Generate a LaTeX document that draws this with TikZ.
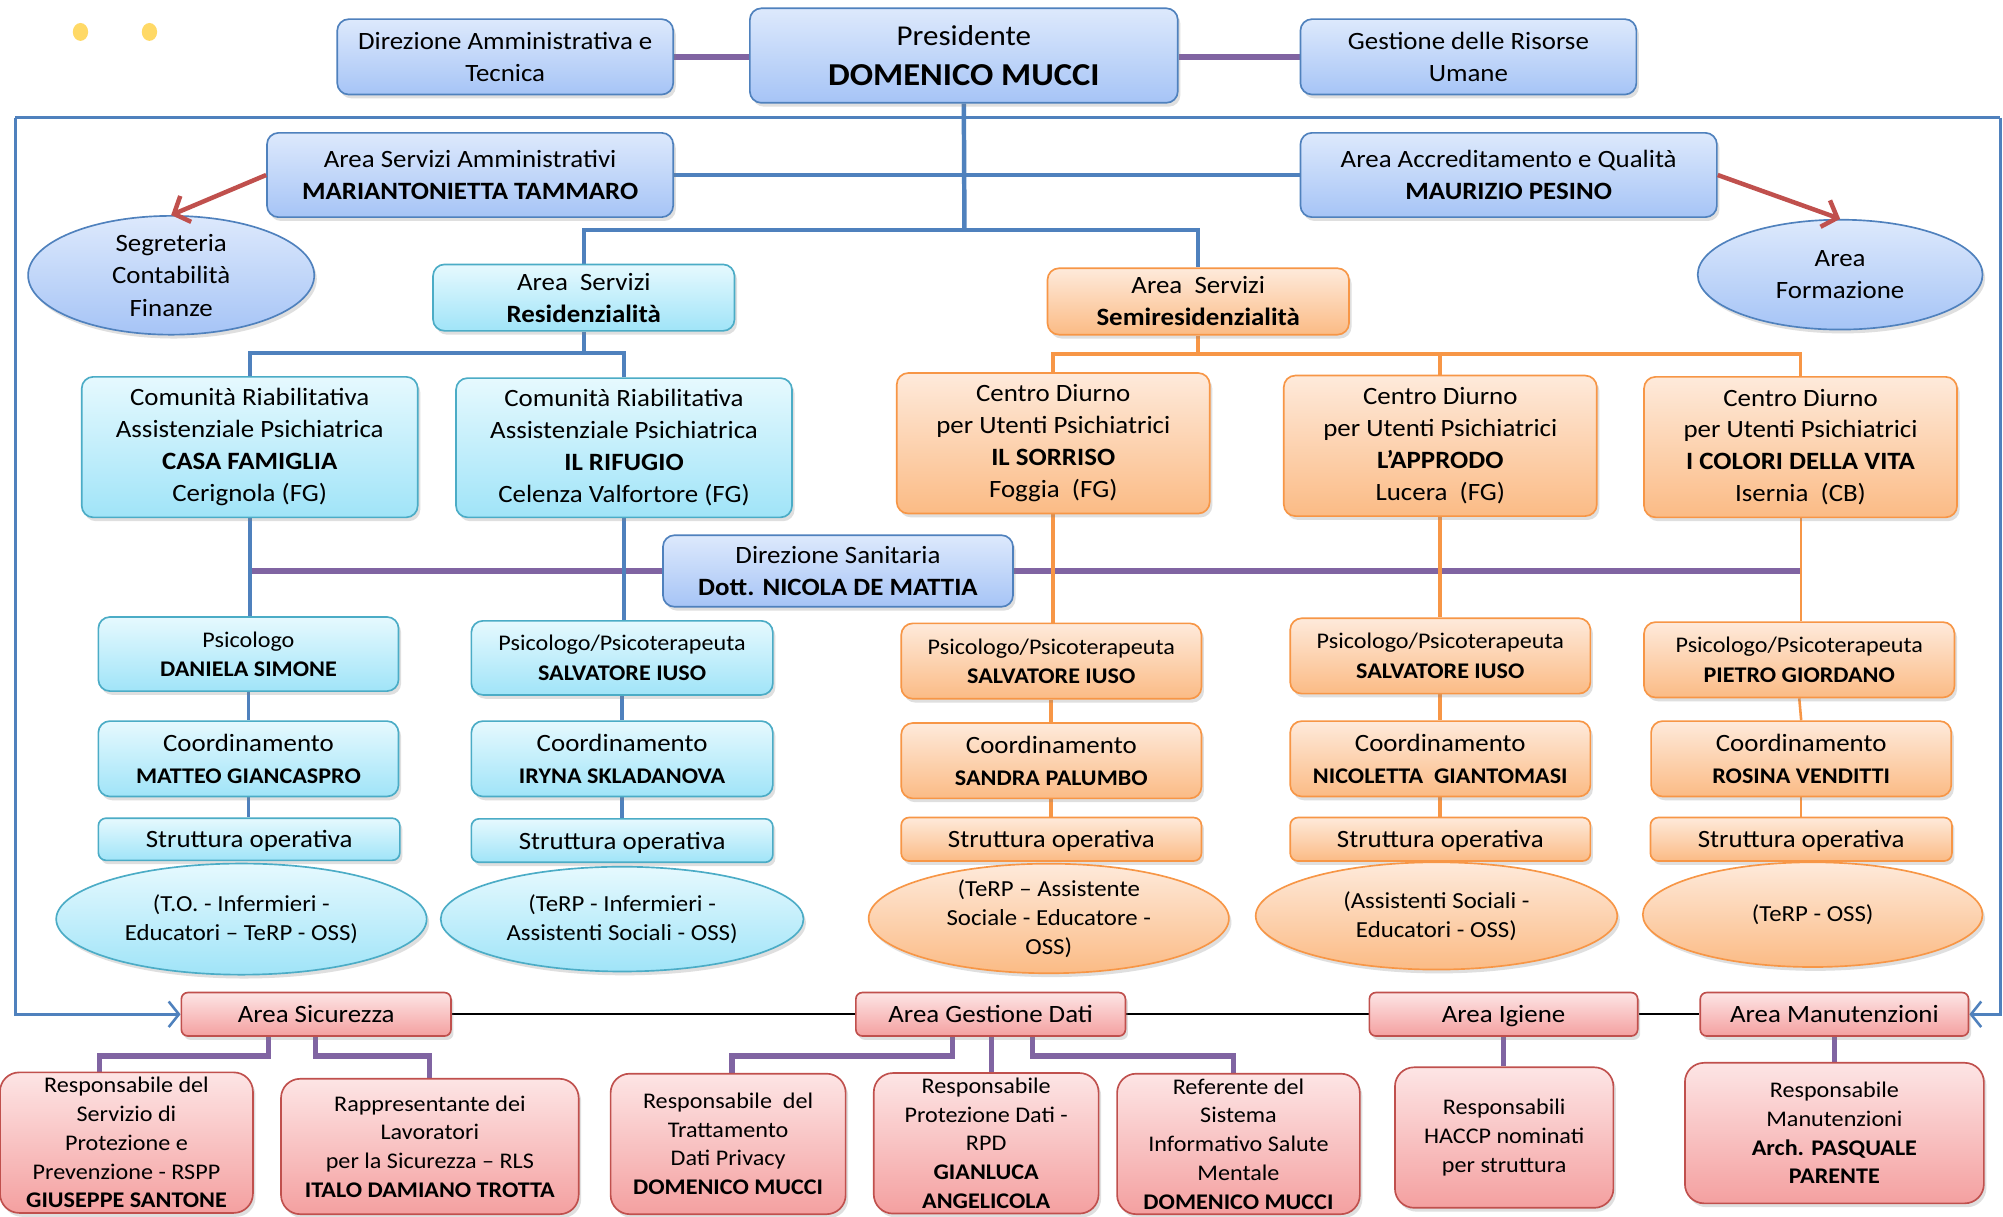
\documentclass[tikz,border=0pt]{standalone}
\usepackage{fontspec}
\setmainfont{Carlito}[FakeStretch=1.08]
\usetikzlibrary{shapes.geometric,shadows,arrows.meta}
\definecolor{bTop}{HTML}{DDE9FC}
\definecolor{bBot}{HTML}{A6C4F6}
\definecolor{bordB}{HTML}{4F81BD}
\definecolor{cTop}{HTML}{E6F9FE}
\definecolor{cBot}{HTML}{A0E4F8}
\definecolor{bordC}{HTML}{4BACC6}
\definecolor{oTop}{HTML}{FEEADB}
\definecolor{oBot}{HTML}{FBBB85}
\definecolor{bordO}{HTML}{F79646}
\definecolor{pTop}{HTML}{FDE5E5}
\definecolor{pBot}{HTML}{F4A0A0}
\definecolor{bordP}{HTML}{C0504D}
\definecolor{purp}{HTML}{8064A2}
\definecolor{dotY}{HTML}{FFD966}
\newcommand\ftA{\fontsize{19.5}{25}\selectfont}
\newcommand\ftD{\fontsize{17.5}{22.5}\selectfont}
\newcommand\ftP{\fontsize{17.5}{23}\selectfont}
\newcommand\ftE{\fontsize{18}{23}\selectfont}
\pgfdeclarelayer{bg}
\pgfsetlayers{bg,main}
\tikzset{
  sz/.style 2 args={minimum width=#1pt, minimum height=#2pt},
  oneline/.style={text height=15pt, text depth=1.5pt},
  bx/.style={draw, rounded corners=9pt, line width=1.3pt, align=center, inner sep=0pt,
    drop shadow={opacity=0.25, shadow xshift=2pt, shadow yshift=-3pt}},
  bluebox/.style={bx, draw=bordB, top color=bTop, bottom color=bBot},
  cyanbox/.style={bx, draw=bordC, top color=cTop, bottom color=cBot},
  orbox/.style={bx, draw=bordO, top color=oTop, bottom color=oBot},
  pinkbox/.style={bx, draw=bordP, top color=pTop, bottom color=pBot},
  el/.style={ellipse, draw, line width=1.3pt, align=center, inner sep=0pt,
    drop shadow={opacity=0.25, shadow xshift=2pt, shadow yshift=-3pt}},
  blueell/.style={el, draw=bordB, top color=bTop, bottom color=bBot},
  cyanell/.style={el, draw=bordC, top color=cTop, bottom color=cBot},
  orell/.style={el, draw=bordO, top color=oTop, bottom color=oBot},
  bline/.style={draw=bordB, line width=3.5pt},
  bthin/.style={draw=bordB, line width=3pt},
  oline/.style={draw=bordO, line width=3pt},
  pline/.style={draw=purp, line width=4.5pt},
  pthin/.style={draw=purp, line width=4pt},
  frameline/.style={draw=bordB, line width=2pt},
  redarr/.style={draw=bordP, line width=3.5pt, -{Straight Barb[length=10pt,width=22pt]}},
  framearr/.style={frameline, -{Straight Barb[length=8pt,width=20pt]}},
  blk/.style={draw=black, line width=1.5pt},
  ydot/.style={ellipse, fill=dotY, minimum width=12pt, minimum height=14pt, inner sep=0pt}
}
\begin{document}
\begin{tikzpicture}[x=1pt,y=-1pt]
\useasboundingbox (0,0) rectangle (1568,952);

\node[ydot] (d1) at (63,25) {};
\node[ydot] (d2) at (117,25) {};

% top row
\node[bluebox, sz={263}{59}, font=\ftA] (dir) at (395.5,44.5) {Direzione Amministrativa e\\Tecnica};
\node[bluebox, sz={335}{74}, font=\fontsize{22.5}{31}\selectfont] (pres) at (754.5,43.5) {Presidente\\{\fontsize{25}{31}\selectfont\bfseries DOMENICO MUCCI}};
\node[bluebox, sz={263}{59}, font=\ftA] (ges) at (1149.5,44.5) {Gestione delle Risorse\\Umane};

\node[bluebox, sz={318}{66}, font=\ftA] (amm) at (368,137) {Area Servizi Amministrativi\\\textbf{MARIANTONIETTA TAMMARO}};
\node[bluebox, sz={326}{66}, font=\ftA] (accr) at (1181,137) {Area Accreditamento e Qualità\\\textbf{MAURIZIO PESINO}};
\node[blueell, sz={224}{93}, font=\fontsize{19.5}{25.5}\selectfont] (seg) at (134,215.5) {Segreteria\\Contabilità\\Finanze};
\node[blueell, sz={223}{86}, font=\fontsize{19.5}{25.5}\selectfont] (form) at (1440.5,215) {Area\\Formazione};

\node[cyanbox, sz={236}{52}, font=\ftA] (res) at (457,233) {Area~\ Servizi\\\textbf{Residenzialità}};
\node[orbox, sz={236}{52}, font=\ftA] (semi) at (938,236) {Area~\ Servizi\\\textbf{Semiresidenzialità}};

% structures
\node[cyanbox, sz={263}{110}, font=\ftA] (cr1) at (195.5,350) {Comunità Riabilitativa\\Assistenziale Psichiatrica\\\textbf{CASA FAMIGLIA}\\Cerignola (FG)};
\node[cyanbox, sz={263}{109}, font=\ftA] (cr2) at (488.5,350.5) {Comunità Riabilitativa\\Assistenziale Psichiatrica\\\textbf{IL RIFUGIO}\\Celenza Valfortore (FG)};
\node[orbox, sz={245}{110}, font=\ftA] (cd1) at (824.5,347) {Centro Diurno\\per Utenti Psichiatrici\\\textbf{IL SORRISO}\\Foggia~ (FG)};
\node[orbox, sz={245}{110}, font=\ftA] (cd2) at (1127.5,349) {Centro Diurno\\per Utenti Psichiatrici\\\textbf{L’APPRODO}\\Lucera~ (FG)};
\node[orbox, sz={245}{110}, font=\ftA] (cd3) at (1409.5,350) {Centro Diurno\\per Utenti Psichiatrici\\\textbf{I COLORI DELLA VITA}\\Isernia~ (CB)};

\node[bluebox, sz={274}{56}, font=\ftA] (dsan) at (656,447) {Direzione Sanitaria\\\textbf{Dott. NICOLA DE MATTIA}};

% psicologi
\node[cyanbox, sz={235}{58}, font=\ftP] (p1) at (194.5,512) {Psicologo\\\textbf{DANIELA SIMONE}};
\node[cyanbox, sz={236}{58}, font=\ftP] (p2) at (487,515) {Psicologo/Psicoterapeuta\\\textbf{SALVATORE IUSO}};
\node[orbox, sz={235}{59}, font=\ftP] (p3) at (823,517.5) {Psicologo/Psicoterapeuta\\\textbf{SALVATORE IUSO}};
\node[orbox, sz={235}{59}, font=\ftP] (p4) at (1127.5,513.5) {Psicologo/Psicoterapeuta\\\textbf{SALVATORE IUSO}};
\node[orbox, sz={243}{59}, font=\ftP] (p5) at (1408.5,516.5) {Psicologo/Psicoterapeuta\\\textbf{PIETRO GIORDANO}};

% coordinamento
\node[cyanbox, sz={235}{59}, font=\ftA] (c1) at (194.5,594) {Coordinamento\\{\ftP\bfseries MATTEO GIANCASPRO}};
\node[cyanbox, sz={236}{59}, font=\ftA] (c2) at (487,594) {Coordinamento\\{\ftP\bfseries IRYNA SKLADANOVA}};
\node[orbox, sz={235}{59}, font=\ftA] (c3) at (823,595.5) {Coordinamento\\{\ftP\bfseries SANDRA PALUMBO}};
\node[orbox, sz={235}{59}, font=\ftA] (c4) at (1127.5,594) {Coordinamento\\{\ftP\bfseries NICOLETTA~ GIANTOMASI}};
\node[orbox, sz={235}{59}, font=\ftA] (c5) at (1410,594) {Coordinamento\\{\ftP\bfseries ROSINA VENDITTI}};

% struttura operativa
\node[cyanbox, oneline, sz={236}{33}, rounded corners=6pt, font=\ftA] (s1) at (195,657) {Struttura operativa};
\node[cyanbox, oneline, sz={236}{34}, rounded corners=6pt, font=\ftA] (s2) at (487,658) {Struttura operativa};
\node[orbox, oneline, sz={235}{34}, rounded corners=6pt, font=\ftA] (s3) at (823,657) {Struttura operativa};
\node[orbox, oneline, sz={235}{34}, rounded corners=6pt, font=\ftA] (s4) at (1127.5,657) {Struttura operativa};
\node[orbox, oneline, sz={236}{34}, rounded corners=6pt, font=\ftA] (s5) at (1410,657) {Struttura operativa};

% ellipses
\node[cyanell, sz={290}{87}, font=\ftE] (e1) at (189,719.5) {(T.O. - Infermieri -\\Educatori – TeRP - OSS)};
\node[cyanell, sz={284}{82}, font=\ftE] (e2) at (487,719.5) {(TeRP - Infermieri -\\Assistenti Sociali - OSS)};
\node[orell, sz={282}{82}, font=\fontsize{18}{22.5}\selectfont] (e3) at (821,719) {(TeRP – Assistente\\Sociale - Educatore -\\OSS)};
\node[orell, sz={283}{84}, font=\ftE] (e4) at (1124.5,717) {(Assistenti Sociali -\\Educatori - OSS)};
\node[orell, sz={266}{82}, font=\ftE] (e5) at (1419,716) {(TeRP - OSS)};

% bottom areas
\node[pinkbox, oneline, sz={211}{34}, rounded corners=5pt, font=\ftA] (sic) at (247.5,794) {Area Sicurezza};
\node[pinkbox, oneline, sz={211}{34}, rounded corners=5pt, font=\ftA] (gd) at (775.5,794) {Area Gestione Dati};
\node[pinkbox, oneline, sz={210}{34}, rounded corners=5pt, font=\ftA] (ig) at (1177,794) {Area Igiene};
\node[pinkbox, oneline, sz={210}{34}, rounded corners=5pt, font=\ftA] (man) at (1436,794) {Area Manutenzioni};

\node[pinkbox, sz={198}{110}, rounded corners=15pt, font=\ftD] (b1) at (99,894.5) {Responsabile del\\Servizio di\\Protezione e\\Prevenzione - RSPP\\\textbf{GIUSEPPE SANTONE}};
\node[pinkbox, sz={233}{106}, rounded corners=15pt, font=\ftD] (b2) at (336.5,897.5) {Rappresentante dei\\Lavoratori\\per la Sicurezza – RLS\\\textbf{ITALO DAMIANO TROTTA}};
\node[pinkbox, sz={184}{110}, rounded corners=15pt, font=\ftD] (b3) at (570,895.5) {Responsabile~ del\\Trattamento\\Dati Privacy\\\textbf{DOMENICO MUCCI}};
\node[pinkbox, sz={176}{110}, rounded corners=15pt, font=\ftD] (b4) at (772,895) {Responsabile\\Protezione Dati -\\RPD\\\textbf{GIANLUCA}\\\textbf{ANGELICOLA}};
\node[pinkbox, sz={190}{110}, rounded corners=15pt, font=\ftD] (b5) at (969.5,895.5) {Referente del\\Sistema\\Informativo Salute\\Mentale\\\textbf{DOMENICO MUCCI}};
\node[pinkbox, sz={171}{110}, rounded corners=15pt, font=\ftD] (b6) at (1177.5,890.5) {Responsabili\\HACCP nominati\\per struttura};
\node[pinkbox, sz={234}{110}, rounded corners=15pt, font=\ftD] (b7) at (1436,887) {Responsabile\\Manutenzioni\\\textbf{Arch. PASQUALE}\\\textbf{PARENTE}};

% connectors
\coordinate (j0) at (755,180);
\coordinate (j1) at (457,276.5);
\coordinate (j2) at (938,277);
\coordinate (fTL) at (12,92);
\coordinate (fTR) at (1566,92);

\begin{pgfonlayer}{bg}
\fill[white] (0,0) rectangle (1568,952);
\draw[pline] (dir.east) -- (dir.east -| pres.west);
\draw[pline] (ges.west) -- (ges.west -| pres.east);

\draw[frameline] (fTL) -- (fTR);
\draw[framearr] (fTL) |- (sic.west);
\draw[framearr] (fTR) |- (man.east);

\draw[bline] (pres.south) -- (j0);
\draw[bline] (amm.east) -- (accr.west);
\draw[bline] (res.north) |- (j0);
\draw[bline] (semi.north) |- (j0);

\draw[bline] (res.south) -- (j1);
\draw[bline] (cr1.north) |- (j1);
\draw[bline] (cr2.north) |- (j1);

\draw[oline] (semi.south) -- (j2);
\draw[oline] (cd1.north) |- (j2);
\draw[oline] (cd2.north) |- (j2);
\draw[oline] (cd3.north) |- (j2);

\draw[pline] (dsan.west) -- (dsan.west -| cr1.south);
\draw[pline] (dsan.east) -- (dsan.east -| cd3.south);

\draw[bline] (cr1.south) -- (cr1.south |- p1.north);
\draw[bline] (cr2.south) -- (cr2.south |- p2.north);
\draw[oline] (cd1.south) -- (cd1.south |- p3.north);
\draw[oline] (cd2.south) -- (cd2.south |- p4.north);
\draw[draw=bordO, line width=1.5pt] (cd3.south) -- (cd3.south |- p5.north);

\draw[bthin] (p1.south) -- (c1.north);
\draw[bthin] (p2.south) -- (c2.north);
\draw[oline] (p3.south) -- (c3.north);
\draw[oline] (p4.south) -- (c4.north);
\draw[draw=bordO, line width=2pt] (p5.south) -- (c5.north);

\draw[bthin] (c1.south) -- (s1.north -| c1.south);
\draw[bthin] (c2.south) -- (s2.north -| c2.south);
\draw[oline] (c3.south) -- (c3.south |- s3.north);
\draw[oline] (c4.south) -- (c4.south |- s4.north);
\draw[draw=bordO, line width=1.5pt] (c5.south) -- (c5.south |- s5.north);

\draw[blk] (sic.east) -- (gd.west);
\draw[blk] (gd.east) -- (ig.west);
\draw[blk] (ig.east) -- (man.west);

\draw[pthin] ([xshift=-37pt]sic.south) -- ++(0,15) -| ([xshift=-21pt]b1.north);
\draw[pthin] ([xshift=-0.5pt]sic.south) -- ++(0,15) -| (b2.north);
\draw[pthin] ([xshift=-30pt]gd.south) -- ++(0,15) -| ([xshift=3pt]b3.north);
\draw[pthin] ([xshift=1pt]gd.south) -- ([xshift=1pt]gd.south |- b4.north);
\draw[pthin] ([xshift=32.5pt]gd.south) -- ++(0,15) -| ([xshift=-4pt]b5.north);
\draw[pthin] (ig.south) -- (ig.south |- b6.north);
\draw[pthin] (man.south) -- (man.south |- b7.north);
\end{pgfonlayer}

\draw[redarr] (amm.west) -- (seg.north);
\draw[redarr] (accr.east) -- (form.north);
\end{tikzpicture}
\end{document}
